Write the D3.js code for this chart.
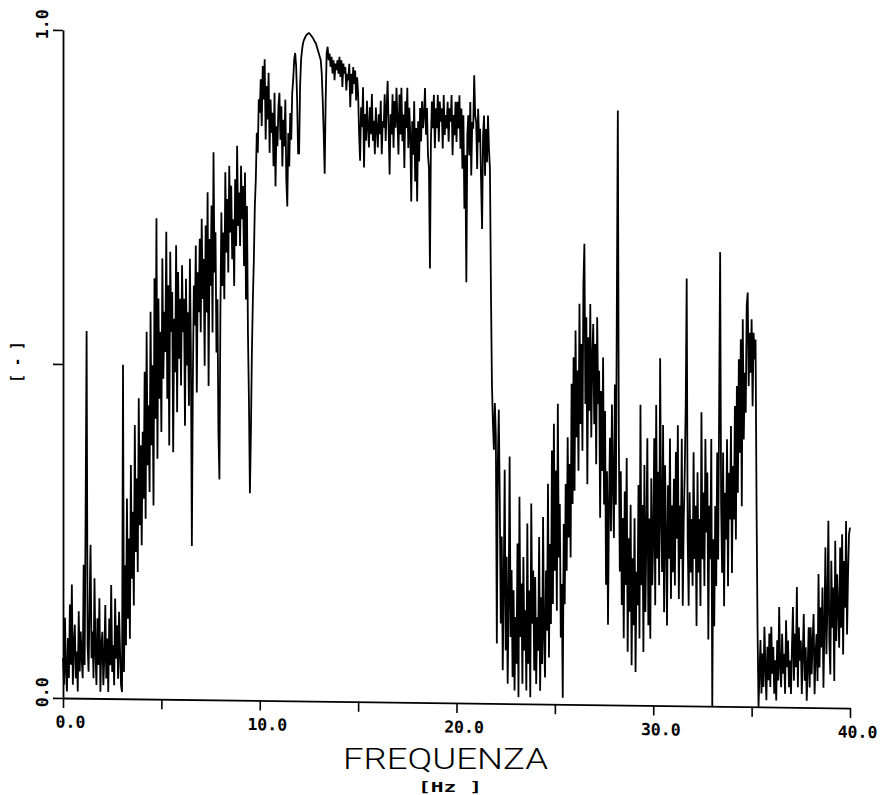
<!DOCTYPE html>
<html>
<head>
<meta charset="utf-8">
<script src="https://cdn.jsdelivr.net/npm/d3@7"></script>
<style>
  html, body { margin: 0; padding: 0; background: #fff; }
  svg { display: block; }
</style>
</head>
<body>
<svg id="chart" width="885" height="795"></svg>
<script>
// Coherence spectrum, sampled every 0.05 Hz from 0 to 40 Hz (one row per Hz)
const freqStep = 0.05;
const coherence = [
  0.06, 0.02, 0.12, 0.04, 0.01, 0.09, 0.03, 0.14, 0.05, 0.17, 0.02, 0.08, 0.11, 0.03, 0.07, 0.01, 0.13, 0.04, 0.10, 0.06,
  0.03, 0.20, 0.05, 0.28, 0.55, 0.08, 0.04, 0.14, 0.23, 0.06, 0.10, 0.03, 0.18, 0.07, 0.02, 0.12, 0.05, 0.15, 0.01, 0.08,
  0.10, 0.02, 0.06, 0.14, 0.03, 0.09, 0.01, 0.12, 0.05, 0.17, 0.04, 0.08, 0.02, 0.15, 0.06, 0.11, 0.03, 0.13, 0.07, 0.02,
  0.01, 0.50, 0.04, 0.20, 0.08, 0.30, 0.12, 0.24, 0.09, 0.35, 0.18, 0.28, 0.14, 0.41, 0.22, 0.33, 0.19, 0.45, 0.26, 0.38,
  0.23, 0.40, 0.30, 0.49, 0.27, 0.55, 0.35, 0.44, 0.31, 0.58, 0.38, 0.50, 0.29, 0.63, 0.42, 0.72, 0.36, 0.60, 0.45, 0.55,
  0.40, 0.66, 0.48, 0.58, 0.52, 0.70, 0.45, 0.62, 0.38, 0.67, 0.55, 0.61, 0.37, 0.57, 0.49, 0.68, 0.43, 0.64, 0.51, 0.60,
  0.47, 0.65, 0.55, 0.60, 0.41, 0.63, 0.50, 0.58, 0.44, 0.66, 0.52, 0.23, 0.48, 0.62, 0.56, 0.68, 0.46, 0.64, 0.58, 0.69,
  0.55, 0.72, 0.60, 0.66, 0.50, 0.71, 0.58, 0.76, 0.47, 0.69, 0.62, 0.74, 0.55, 0.82, 0.64, 0.70, 0.52, 0.60, 0.40, 0.33,
  0.58, 0.73, 0.62, 0.70, 0.60, 0.79, 0.67, 0.75, 0.64, 0.80, 0.70, 0.77, 0.66, 0.72, 0.62, 0.78, 0.68, 0.83, 0.71, 0.76,
  0.68, 0.80, 0.72, 0.77, 0.65, 0.79, 0.60, 0.74, 0.55, 0.45, 0.31, 0.40, 0.52, 0.60, 0.66, 0.74, 0.78, 0.85, 0.82, 0.90,
  0.88, 0.93, 0.86, 0.95, 0.90, 0.96, 0.84, 0.92, 0.87, 0.94, 0.82, 0.90, 0.85, 0.88, 0.80, 0.91, 0.77, 0.86, 0.83, 0.89,
  0.91, 0.84, 0.89, 0.80, 0.87, 0.83, 0.90, 0.78, 0.74, 0.85, 0.80, 0.88, 0.84, 0.91, 0.93, 0.96, 0.97, 0.95, 0.90, 0.82,
  0.82, 0.92, 0.96, 0.975, 0.985, 0.99, 0.993, 0.996, 0.998, 0.999, 1.00, 0.999, 0.997, 0.995, 0.993, 0.99, 0.987, 0.985, 0.98, 0.975,
  0.97, 0.965, 0.96, 0.94, 0.90, 0.85, 0.79, 0.90, 0.97, 0.98, 0.96, 0.97, 0.95, 0.965, 0.94, 0.96, 0.93, 0.955, 0.945, 0.96,
  0.94, 0.965, 0.935, 0.96, 0.92, 0.955, 0.94, 0.95, 0.915, 0.94, 0.93, 0.955, 0.89, 0.94, 0.91, 0.95, 0.925, 0.945, 0.90, 0.935,
  0.91, 0.85, 0.81, 0.89, 0.86, 0.92, 0.80, 0.88, 0.84, 0.90, 0.86, 0.83, 0.89, 0.85, 0.91, 0.84, 0.87, 0.82, 0.89, 0.86,
  0.83, 0.88, 0.85, 0.90, 0.82, 0.87, 0.86, 0.91, 0.84, 0.89, 0.93, 0.86, 0.79, 0.88, 0.85, 0.91, 0.83, 0.90, 0.86, 0.92,
  0.87, 0.82, 0.91, 0.85, 0.92, 0.84, 0.88, 0.80, 0.90, 0.86, 0.92, 0.83, 0.89, 0.85, 0.75, 0.87, 0.82, 0.90, 0.78, 0.86,
  0.75, 0.87, 0.81, 0.89, 0.84, 0.90, 0.86, 0.88, 0.92, 0.85, 0.89, 0.82, 0.80, 0.65, 0.84, 0.90, 0.86, 0.91, 0.83, 0.89,
  0.86, 0.91, 0.84, 0.90, 0.87, 0.89, 0.83, 0.91, 0.85, 0.88, 0.86, 0.90, 0.84, 0.89, 0.87, 0.91, 0.82, 0.88, 0.85, 0.90,
  0.84, 0.90, 0.86, 0.91, 0.83, 0.89, 0.80, 0.88, 0.74, 0.82, 0.63, 0.85, 0.88, 0.82, 0.90, 0.79, 0.87, 0.86, 0.94, 0.88,
  0.87, 0.80, 0.89, 0.84, 0.86, 0.78, 0.71, 0.85, 0.88, 0.79, 0.86, 0.81, 0.88, 0.83, 0.80, 0.62, 0.48, 0.42, 0.38, 0.45,
  0.40, 0.09, 0.36, 0.44, 0.30, 0.12, 0.25, 0.05, 0.18, 0.35, 0.08, 0.22, 0.03, 0.15, 0.37, 0.10, 0.20, 0.04, 0.17, 0.02,
  0.13, 0.06, 0.24, 0.01, 0.31, 0.10, 0.18, 0.03, 0.22, 0.08, 0.14, 0.02, 0.27, 0.06, 0.17, 0.01, 0.30, 0.12, 0.20, 0.05,
  0.19, 0.03, 0.13, 0.08, 0.25, 0.02, 0.16, 0.06, 0.28, 0.10, 0.04, 0.20, 0.11, 0.33, 0.07, 0.24, 0.12, 0.38, 0.15, 0.42,
  0.20, 0.35, 0.14, 0.45, 0.22, 0.30, 0.10, 0.18, 0.01, 0.27, 0.15, 0.33, 0.20, 0.40, 0.25, 0.36, 0.22, 0.48, 0.30, 0.52,
  0.32, 0.56, 0.40, 0.50, 0.35, 0.60, 0.42, 0.54, 0.38, 0.63, 0.69, 0.45, 0.58, 0.33, 0.55, 0.44, 0.60, 0.40, 0.52, 0.57,
  0.42, 0.54, 0.36, 0.58, 0.45, 0.50, 0.28, 0.47, 0.35, 0.52, 0.30, 0.44, 0.18, 0.35, 0.12, 0.30, 0.40, 0.26, 0.45, 0.33,
  0.25, 0.48, 0.30, 0.60, 0.89, 0.40, 0.20, 0.35, 0.15, 0.28, 0.10, 0.32, 0.18, 0.37, 0.08, 0.25, 0.14, 0.30, 0.06, 0.22,
  0.12, 0.28, 0.05, 0.20, 0.15, 0.33, 0.10, 0.45, 0.18, 0.30, 0.08, 0.36, 0.14, 0.25, 0.40, 0.12, 0.28, 0.10, 0.34, 0.18,
  0.25, 0.40, 0.15, 0.45, 0.22, 0.35, 0.18, 0.52, 0.28, 0.20, 0.42, 0.14, 0.36, 0.25, 0.12, 0.33, 0.22, 0.40, 0.16, 0.30,
  0.20, 0.34, 0.18, 0.38, 0.25, 0.42, 0.16, 0.30, 0.22, 0.40, 0.15, 0.28, 0.35, 0.45, 0.64, 0.25, 0.15, 0.32, 0.20, 0.28,
  0.18, 0.38, 0.22, 0.30, 0.12, 0.35, 0.20, 0.28, 0.15, 0.44, 0.22, 0.32, 0.18, 0.40, 0.26, 0.35, 0.10, 0.30, 0.22, 0.40,
  0.00, 0.25, 0.12, 0.30, 0.18, 0.38, 0.22, 0.45, 0.68, 0.30, 0.20, 0.38, 0.15, 0.32, 0.25, 0.40, 0.18, 0.35, 0.28, 0.42,
  0.20, 0.36, 0.28, 0.45, 0.25, 0.48, 0.32, 0.52, 0.38, 0.55, 0.30, 0.58, 0.40, 0.50, 0.44, 0.60, 0.62, 0.48, 0.56, 0.50,
  0.58, 0.45, 0.56, 0.52, 0.55, 0.30, 0.12, 0.00, 0.05, 0.10, 0.02, 0.08, 0.03, 0.12, 0.06, 0.01, 0.09, 0.04, 0.11, 0.03,
  0.12, 0.05, 0.09, 0.02, 0.07, 0.01, 0.10, 0.04, 0.15, 0.06, 0.03, 0.11, 0.05, 0.08, 0.02, 0.13, 0.06, 0.10, 0.03, 0.07,
  0.02, 0.09, 0.15, 0.04, 0.11, 0.06, 0.18, 0.03, 0.12, 0.07, 0.10, 0.02, 0.08, 0.14, 0.04, 0.09, 0.01, 0.06, 0.12, 0.03,
  0.12, 0.05, 0.10, 0.14, 0.02, 0.08, 0.11, 0.04, 0.20, 0.06, 0.15, 0.09, 0.18, 0.03, 0.12, 0.24, 0.08, 0.15, 0.28, 0.10,
  0.05, 0.22, 0.12, 0.18, 0.04, 0.25, 0.10, 0.20, 0.15, 0.09, 0.24, 0.12, 0.26, 0.08, 0.22, 0.15, 0.28, 0.11, 0.20, 0.26,
  0.27
];

const xTicks = [0, 5, 10, 15, 20, 25, 30, 35, 40];
const xTickLabels = ["0.0", "", "10.0", "", "20.0", "", "30.0", "", "40.0"];
const yTicks = [0, 0.5, 1];
const yTickLabels = ["0.0", "", "1.0"];
const xTitle = "FREQUENZA";
const xUnit = "[Hz ]";
const yUnit = "[ - ]";

const svg = d3.select("#chart");

// the plotter sheet runs slightly askew: the frequency axis drops toward the right
const plot = svg.append("g").attr("transform", "skewY(0.73)");

const x = d3.scaleLinear().domain([0, 40]).range([63, 850]);
const y = d3.scaleLinear().domain([0, 1]).range([697.2, 29.2]);

const points = coherence.map((v, i) => [i * freqStep, v]);

const line = d3.line()
  .x(d => x(d[0]))
  .y(d => y(d[1]));

plot.append("path")
  .datum(points)
  .attr("fill", "none")
  .attr("stroke", "#000")
  .attr("stroke-width", 1.8)
  .attr("stroke-linejoin", "miter")
  .attr("stroke-miterlimit", 2)
  .attr("d", line);

const tickFont = "'DejaVu Sans Mono', monospace";

// frequency axis
const xAxis = d3.axisBottom(x)
  .tickValues(xTicks)
  .tickSize(10)
  .tickSizeOuter(0)
  .tickFormat((d, i) => xTickLabels[i]);

const gx = plot.append("g")
  .attr("transform", `translate(0,${y(0)})`)
  .call(xAxis);
gx.select(".domain").attr("stroke", "#000").attr("stroke-width", 1.8);
gx.selectAll(".tick line").attr("stroke", "#000").attr("stroke-width", 1.6);
gx.selectAll(".tick text")
  .attr("y", 18)
  .attr("dy", "0.71em")
  .attr("dx", 7)
  .attr("fill", "#000")
  .style("font-family", tickFont)
  .style("font-weight", "bold")
  .style("font-size", "16.5px");

// coherence axis
const yAxis = d3.axisLeft(y)
  .tickValues(yTicks)
  .tickSize(10)
  .tickSizeOuter(0)
  .tickFormat((d, i) => yTickLabels[i]);

const gy = plot.append("g")
  .attr("transform", `translate(${x(0)},0)`)
  .call(yAxis);
gy.select(".domain").attr("stroke", "#000").attr("stroke-width", 1.8);
gy.selectAll(".tick line").attr("stroke", "#000").attr("stroke-width", 1.6);
gy.selectAll(".tick text")
  .attr("x", null)
  .attr("dy", "0.35em")
  .attr("transform", "translate(-20.5,-6) rotate(-90)")
  .attr("text-anchor", "middle")
  .attr("fill", "#000")
  .style("font-family", tickFont)
  .style("font-weight", "bold")
  .style("font-size", "16.5px");

// axis titles
svg.append("text")
  .attr("x", 343)
  .attr("y", 769)
  .attr("textLength", 205)
  .attr("lengthAdjust", "spacingAndGlyphs")
  .style("font-family", "Roboto, 'DejaVu Sans', sans-serif")
  .style("font-weight", 300)
  .style("font-size", "30px")
  .attr("fill", "#000")
  .text(xTitle);

svg.append("text")
  .attr("x", 418)
  .attr("y", 792)
  .attr("textLength", 64)
  .attr("lengthAdjust", "spacingAndGlyphs")
  .style("font-family", "'DejaVu Sans Mono', monospace")
  .style("font-weight", "bold")
  .style("font-size", "14px")
  .attr("fill", "#000")
  .text(xUnit);

svg.append("text")
  .attr("transform", "translate(17,362) rotate(-90)")
  .attr("text-anchor", "middle")
  .attr("dy", "0.35em")
  .attr("textLength", 41)
  .attr("lengthAdjust", "spacingAndGlyphs")
  .style("font-family", "'DejaVu Sans Mono', monospace")
  .style("font-weight", "bold")
  .style("font-size", "15px")
  .attr("fill", "#000")
  .text(yUnit);
</script>
</body>
</html>
